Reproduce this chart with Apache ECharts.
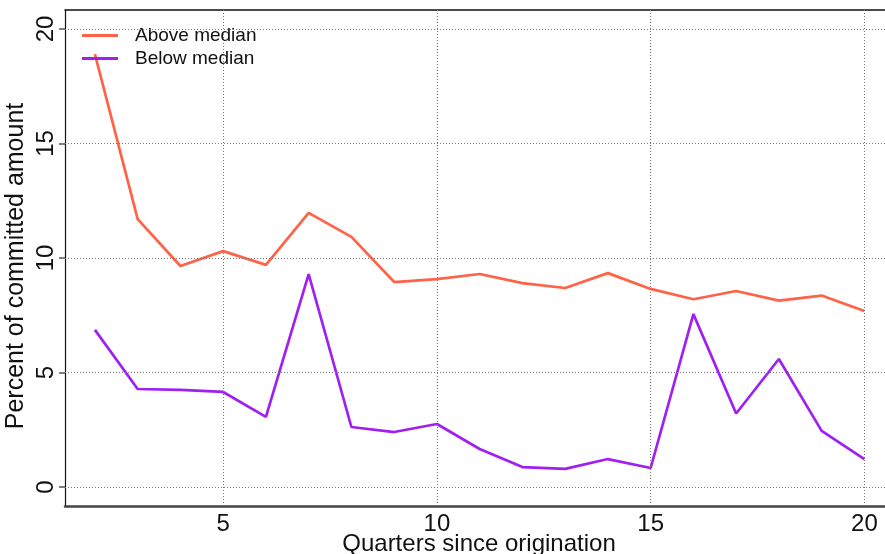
<!DOCTYPE html>
<html>
<head>
<meta charset="utf-8">
<script src="https://cdn.jsdelivr.net/npm/echarts@6/dist/echarts.min.js"></script>
<style>
  html, body { margin: 0; padding: 0; background: #fff; }
  #chart { width: 885px; height: 554px; }
</style>
</head>
<body>
<div id="chart"></div>
<script>
// Quarters since origination
const quarters = [2, 3, 4, 5, 6, 7, 8, 9, 10, 11, 12, 13, 14, 15, 16, 17, 18, 19, 20];
// Percent of committed amount, by group
const aboveMedian = [18.9, 11.7, 9.65, 10.3, 9.7, 11.97, 10.92, 8.95, 9.08, 9.3, 8.9, 8.69, 9.34, 8.65, 8.2, 8.56, 8.14, 8.36, 7.69];
const belowMedian = [6.86, 4.28, 4.24, 4.15, 3.06, 9.3, 2.62, 2.4, 2.75, 1.66, 0.87, 0.79, 1.22, 0.83, 7.55, 3.21, 5.59, 2.45, 1.22];
// Tick positions
const xTicks = [5, 10, 15, 20];
const yTicks = [0, 5, 10, 15, 20];

const font = 'Liberation Sans, Arial, Helvetica, sans-serif';
const pairs = (ys) => quarters.map((q, i) => [q, ys[i]]);

const gridLine = { color: '#777', width: 1, type: [1, 2] };

const chart = echarts.init(document.getElementById('chart'), null, { renderer: 'canvas' });
chart.setOption({
  animation: false,
  backgroundColor: '#fff',
  grid: {
    left: 65, top: 10, right: -20, bottom: 48,
    containLabel: false,
    outerBoundsMode: 'none'
  },
  legend: {
    orient: 'vertical',
    left: 82, top: 26,
    padding: 0,
    icon: 'rect',
    itemWidth: 36, itemHeight: 3,
    itemGap: 4,
    textStyle: { fontFamily: font, fontSize: 19, color: '#111', padding: [0, 0, 0, 12] },
    data: ['Above median', 'Below median']
  },
  xAxis: [
    {
      type: 'value',
      min: 1.3, max: 20.95,
      name: 'Quarters since origination',
      nameLocation: 'middle',
      nameGap: 26,
      nameMoveOverlap: false,
      nameTextStyle: { fontFamily: font, fontSize: 24, color: '#111', padding: [0, 12, 0, 0] },
      axisLine: { show: true, onZero: false, lineStyle: { color: '#444', width: 2.5 } },
      axisTick: { show: false, customValues: xTicks },
      axisLabel: { customValues: xTicks, fontFamily: font, fontSize: 24, color: '#111', margin: 6 },
      splitLine: { show: false }
    },
    {
      // top frame edge
      type: 'value',
      position: 'top',
      min: 1.3, max: 20.95,
      axisLine: { show: true, onZero: false, lineStyle: { color: '#111', width: 1.5 } },
      axisTick: { show: false },
      axisLabel: { show: false },
      splitLine: { show: false }
    }
  ],
  yAxis: {
    type: 'value',
    min: -0.83, max: 20.83,
    name: 'Percent of committed amount',
    nameLocation: 'middle',
    nameGap: 36,
    nameMoveOverlap: false,
    nameRotate: 90,
    nameTextStyle: { fontFamily: font, fontSize: 25, color: '#111', padding: [0, 16, 0, 0] },
    axisLine: { show: true, onZero: false, lineStyle: { color: '#111', width: 1.2 } },
    axisTick: { show: true, length: 6, customValues: yTicks, lineStyle: { color: '#555', width: 1.5 } },
    axisLabel: { customValues: yTicks, rotate: 90, fontFamily: font, fontSize: 24, color: '#111', margin: 7 },
    splitLine: { show: false }
  },
  series: [
    {
      name: 'Above median',
      type: 'line',
      data: pairs(aboveMedian),
      symbol: 'none',
      color: '#FF6347',
      lineStyle: { color: '#FF6347', width: 2.7 },
      z: 3
    },
    {
      name: 'Below median',
      type: 'line',
      data: pairs(belowMedian),
      symbol: 'none',
      color: '#A020F0',
      lineStyle: { color: '#A020F0', width: 2.7 },
      z: 3
    },
    {
      // dotted reference grid
      name: 'grid',
      type: 'line',
      data: [],
      silent: true,
      z: 1,
      markLine: {
        silent: true,
        symbol: 'none',
        label: { show: false },
        lineStyle: gridLine,
        data: [
          ...yTicks.map(v => ({ yAxis: v })),
          ...xTicks.map(v => ({ xAxis: v }))
        ]
      }
    }
  ]
});
</script>
</body>
</html>
